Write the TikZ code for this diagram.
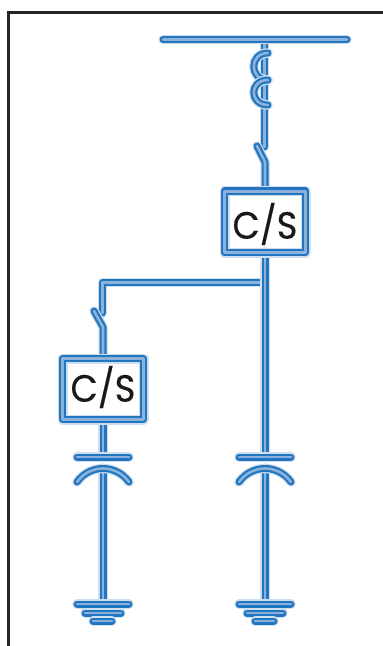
\documentclass[tikz,border=0pt]{standalone}
\usepackage{fontspec}
\setmainfont{Poppins}
\newfontfamily\lblfont[FakeBold=0.35]{Poppins}
\definecolor{wireblue}{RGB}{34,118,192}
\definecolor{wirecore}{RGB}{140,178,220}
\definecolor{wirehalo}{RGB}{205,222,240}
\tikzset{
  framebox/.style={draw=black!85,line width=2.2pt},
  lbl/.style={inner sep=0pt,font=\lblfont\fontsize{38}{38}\selectfont,text=black!90},
  wirepath/.style={line cap=round,line join=round},
}
\newcommand{\wire}[1]{%
  \draw[wirepath,draw=wirehalo,line width=9.5pt] #1;
  \draw[wirepath,draw=wireblue,line width=7pt] #1;
  \draw[wirepath,draw=wirecore,line width=2.6pt] #1;
}
\newcommand{\boxwire}[1]{%
  \draw[wirepath,draw=wirehalo,line width=10pt] #1;
  \draw[wirepath,draw=wireblue,line width=7.6pt] #1;
  \draw[wirepath,draw=wirecore,line width=3pt] #1;
}
\begin{document}
\begin{tikzpicture}[x=1pt,y=-1pt]
\useasboundingbox (0,0) rectangle (383,646);
\fill[white] (0,0) rectangle (383,646);
\draw[framebox] (8.5,650) -- (8.5,12.5) -- (390,12.5);
% coordinates
\coordinate (busL) at (163,39.5); \coordinate (busR) at (347,39.5);
\coordinate (busT) at (264.5,39.5); \coordinate (swAend) at (264.5,147);
\coordinate (bladeAt) at (257,146); \coordinate (bladeAb) at (265,162);
\coordinate (boxAtop) at (265,191); \coordinate (rightT) at (265,252);
\coordinate (tee) at (265,282.5); \coordinate (cornerB) at (102.5,282.5);
\coordinate (swBend) at (102.5,313); \coordinate (bladeBt) at (94,311);
\coordinate (bladeBb) at (103,327); \coordinate (boxBtop) at (103,358);
\coordinate (boxBbot) at (103,420);
% wires
\wire{(swBend) -- (cornerB) -- (tee)}
\wire{(bladeBt) -- (bladeBb) -- (boxBtop)}
\wire{(boxBbot) -- (103,457)}
\wire{(103,468) -- (103,604)}
\wire{(77,457) -- (129,457)}
\wire{(77,482) .. controls (90,464) and (116,464) .. (129,482)}
\wire{(77,604) -- (129,604)}
\wire{(85,613) -- (121,613)}
\wire{(93,621) -- (112,621)}
\wire{(rightT) -- (265,457)}
\wire{(265,468) -- (265,604)}
\wire{(239,457) -- (291,457)}
\wire{(239,482) .. controls (252,464) and (278,464) .. (291,482)}
\wire{(239,604) -- (291,604)}
\wire{(247,613) -- (283,613)}
\wire{(255,621) -- (274,621)}
\wire{(busT) -- (swAend)}
\wire{(bladeAt) -- (bladeAb) -- (boxAtop)}
\wire{(268,53) .. controls (249,53) and (249,80) .. (268,80)}
\wire{(268,80) .. controls (249,80) and (249,105) .. (268,105)}
\wire{(busL) -- (busR)}
\boxwire{(224.5,191) rectangle (305.5,252.5)}
\boxwire{(62.5,358.5) rectangle (143.5,419.5)}
\node[lbl] (labelA) at (265,224) {\scalebox{.93}[1]{C/S}};
\node[lbl] (labelB) at (103,387) {\scalebox{.93}[1]{C/S}};
\end{tikzpicture}
\end{document}
